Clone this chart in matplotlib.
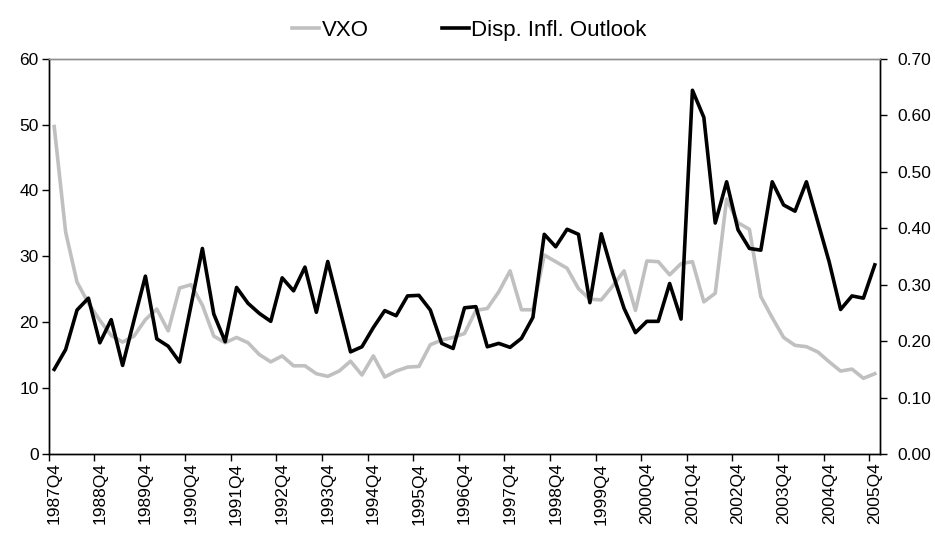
import matplotlib
matplotlib.use("Agg")
import matplotlib.pyplot as plt
import matplotlib.ticker as ticker
import numpy as np

plt.rcParams["font.family"] = ["Liberation Sans", "DejaVu Sans"]

# ---------------------------------------------------------------------------
# Data: quarterly, 1987Q4 .. 2005Q4
# ---------------------------------------------------------------------------
quarters = ["1987Q4"] + [f"{y}Q{q}" for y in range(1988, 2006) for q in (1, 2, 3, 4)]

vxo = [
    49.7, 33.7, 26.1, 22.9, 20.3, 18.0, 17.0, 17.9, 20.4, 22.0,
    18.7, 25.2, 25.7, 22.6, 17.9, 16.9, 17.7, 16.9, 15.1, 14.0,
    14.9, 13.4, 13.4, 12.2, 11.8, 12.6, 14.1, 12.0, 14.9, 11.7,
    12.6, 13.2, 13.3, 16.6, 17.3, 17.7, 18.3, 21.8, 22.1, 24.6,
    27.8, 21.9, 21.9, 30.2, 29.2, 28.2, 25.1, 23.5, 23.4, 25.5,
    27.8, 21.8, 29.3, 29.2, 27.2, 28.9, 29.2, 23.1, 24.4, 38.7,
    35.1, 34.1, 23.9, 20.7, 17.7, 16.5, 16.3, 15.5, 14.0, 12.6,
    12.9, 11.5, 12.2,
]

disp_infl = [
    0.150, 0.185, 0.255, 0.276, 0.197, 0.238, 0.157, 0.237, 0.315, 0.204,
    0.191, 0.163, 0.263, 0.364, 0.248, 0.199, 0.295, 0.267, 0.249, 0.235,
    0.312, 0.289, 0.331, 0.251, 0.341, 0.261, 0.181, 0.190, 0.224, 0.254,
    0.245, 0.280, 0.281, 0.255, 0.196, 0.187, 0.259, 0.261, 0.190, 0.196,
    0.189, 0.205, 0.242, 0.389, 0.367, 0.398, 0.389, 0.268, 0.390, 0.320,
    0.258, 0.215, 0.235, 0.235, 0.302, 0.239, 0.644, 0.596, 0.409, 0.482,
    0.397, 0.364, 0.361, 0.482, 0.441, 0.430, 0.482, 0.411, 0.340, 0.256,
    0.280, 0.276, 0.335,
]

# ---------------------------------------------------------------------------
# Plot
# ---------------------------------------------------------------------------
fig = plt.figure(figsize=(9.35, 5.33), dpi=100)
ax = fig.add_axes([0.0519, 0.148, 0.8898, 0.742])
ax2 = ax.twinx()

x = np.arange(len(quarters))
l1, = ax.plot(x, vxo, color="#c0c0c0", lw=2.6, label="VXO")
l2, = ax2.plot(x, disp_infl, color="black", lw=2.6, label="Disp. Infl. Outlook")

ax.set_xlim(-0.5, len(quarters) - 0.5)
ax.set_ylim(0, 60)
ax2.set_ylim(0, 0.7)

ax.set_yticks(range(0, 61, 10))
ax2.set_yticks(np.arange(0, 0.71, 0.1))
ax2.yaxis.set_major_formatter(ticker.FormatStrFormatter("%.2f"))

# labels at category centres, tick marks between categories
ax.set_xticks(x[::4])
ax.set_xticklabels(quarters[::4], rotation=90,
                   family=["Liberation Sans Narrow", "Liberation Sans"])
ax.set_xticks(np.arange(-0.5, len(quarters) - 0.5, 4), minor=True)
ax.tick_params(axis="x", which="major", length=0, pad=6, labelsize=12.5)
ax.tick_params(axis="x", which="minor", length=5, width=1, direction="out")
ax.tick_params(axis="y", length=5, width=1, pad=2, labelsize=12.5)
ax2.tick_params(axis="y", length=5, width=1, pad=7, labelsize=12.5)

for a in (ax, ax2):
    a.spines["top"].set_color("#909090")
    a.spines["top"].set_linewidth(1.0)
    for side in ("left", "right", "bottom"):
        a.spines[side].set_linewidth(1.0)

fig.legend(
    handles=[l1, l2],
    loc="upper center",
    bbox_to_anchor=(0.502, 1.0),
    ncol=2,
    frameon=False,
    fontsize=16,
    handlelength=1.2,
    handletextpad=0.12,
    columnspacing=3.3,
)

plt.savefig("out.png", dpi=100)
plt.close()
